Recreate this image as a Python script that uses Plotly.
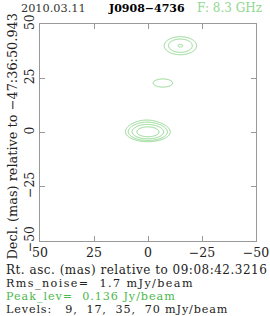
import numpy as np
import plotly.graph_objects as go

# Source components (mas, mJy/beam)
comp_x = [0.0, 0.8, -6.9, -15.0]
comp_y = [0.2, 2.5, 22.8, 40.0]
comp_peak = [125.0, 14.0, 14.0, 36.0]
comp_sx = [4.4, 5.0, 4.8, 4.5]
comp_sy = [1.9, 2.8, 2.0, 2.5]

levels = [9, 17, 35, 70]
x_ticks = [50, 25, 0, -25, -50]
y_ticks = [-50, -25, 0, 25, 50]

NB = "\u00a0"
title_date = "2010.03.11"
title_src = "J0908\u22124736"
title_freq = "F: 8.3 GHz"
x_title = "Rt. asc. (mas) relative to 09:08:42.3216"
y_title = "Decl. (mas) relative to \u221247:36:50.943"
rms_txt = "Rms_noise=  1.7 mJy/beam"
peak_txt = "Peak_lev=  0.136 Jy/beam"
lev_txt = "Levels:   9,  17,  35,  70 mJy/beam"

gx = np.linspace(-50, 50, 401)
gy = np.linspace(-50, 50, 401)
X, Y = np.meshgrid(gx, gy)
Z = np.zeros_like(X)
for cx, cy, p, sx, sy in zip(comp_x, comp_y, comp_peak, comp_sx, comp_sy):
    Z += p * np.exp(-((X - cx) ** 2) / (2 * sx ** 2) - ((Y - cy) ** 2) / (2 * sy ** 2))

GREEN = "#8fd88f"
PEAK_GREEN = "#4cb84c"
fig = go.Figure()
for L in levels:
    fig.add_trace(go.Contour(
        x=gx, y=gy, z=Z, showscale=False, hoverinfo="skip",
        contours=dict(start=L, end=L, size=1, coloring="lines"),
        colorscale=[[0, GREEN], [1, GREEN]],
        line=dict(width=1, color=GREEN),
    ))

FONT = "DejaVu Serif"
L_, R_, T_, B_ = 40, 14, 24, 75
W, H = 270, 316
pw, ph = W - L_ - R_, H - T_ - B_

def px(x):
    return (x - L_) / pw

def py(y):
    return (H - B_ - y) / ph

axis_common = dict(showline=True, mirror="ticks", linecolor="#999999", linewidth=1,
                   ticks="inside", ticklen=5, tickcolor="#999999", showgrid=False,
                   zeroline=False, automargin=False,
                   tickfont=dict(family=FONT, size=12.5, color="#222"))
fig.update_xaxes(range=[50, -50], tickvals=x_ticks,
                 ticktext=[str(v).replace("-", "\u2212") for v in x_ticks], **axis_common)
fig.update_yaxes(range=[-50, 50], tickvals=y_ticks,
                 ticktext=[str(v).replace("-", "\u2212") for v in y_ticks], tickangle=-90,
                 **axis_common)

ann = []
def add(text, x, y, color="#222", size=12, anchor="left", angle=0, weight="normal", ls=0):
    t = text.replace(" ", NB)
    if ls:
        t = '<span style="letter-spacing:%.2fpx">%s</span>' % (ls, t)
    ann.append(dict(text=t,
                    x=px(x), y=py(y), xref="paper", yref="paper", borderpad=0,
                    xanchor=anchor, yanchor="middle", showarrow=False, textangle=angle,
                    font=dict(family=FONT, size=size, color=color, weight=weight)))

add(title_date, 20, 8, size=11.3, color="#333")
add(title_src, 107, 8, color="#000", size=11, weight="bold")
add(title_freq, 196, 8, color=GREEN, size=12)
add(y_title, 12, 136.5, anchor="center", angle=-90, size=12.9)

add(x_title, 5, 269.5, size=12, ls=0.5)
add(rms_txt, 5, 283.3, size=11.2, ls=1.4)
add(peak_txt, 5, 296.3, size=11.2, color=PEAK_GREEN, ls=0.95)
add(lev_txt, 5, 309.2, size=11.2, ls=0.85)

fig.update_layout(width=W, height=H, autosize=False,
                  margin=dict(l=L_, r=R_, t=T_, b=B_, pad=0, autoexpand=False),
                  plot_bgcolor="white", paper_bgcolor="white", annotations=ann,
                  showlegend=False)
fig.write_html("out.html", config={"displayModeBar": False, "responsive": False},
               post_script="document.body.style.margin='0';")
